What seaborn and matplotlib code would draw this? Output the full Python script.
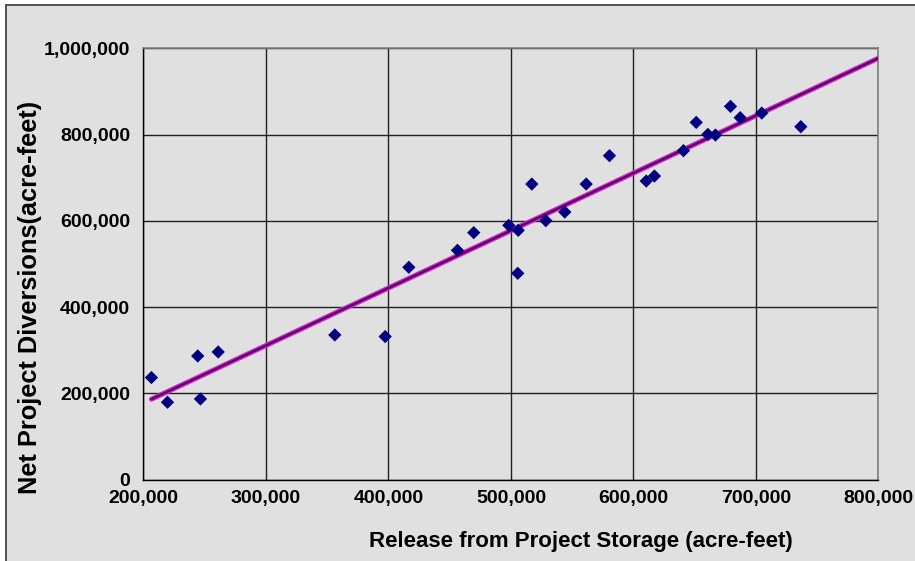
import numpy as np
import pandas as pd
import matplotlib.pyplot as plt
import seaborn as sns
from matplotlib.ticker import FuncFormatter
from matplotlib.patches import Rectangle

# release from storage vs net diversions (acre-feet)
release = [206500, 219600, 244300, 246500, 261000, 356200, 397300, 416600,
           456300, 469600, 498200, 505900, 505500, 517000, 528400, 543900,
           561400, 580400, 610400, 617100, 640800, 651200, 660700, 666900,
           679200, 687100, 704700, 736600]
diversions = [236900, 179600, 286900, 187300, 296200, 335600, 331900, 492500,
              531900, 572900, 589800, 578200, 478600, 685500, 600700, 620600,
              685500, 751300, 692500, 704100, 762900, 828500, 800700, 799100,
              865600, 839400, 850100, 818500]

x_ticks = [200000, 300000, 400000, 500000, 600000, 700000, 800000]
y_ticks = [0, 200000, 400000, 600000, 800000, 1000000]

df = pd.DataFrame({"release": release, "diversions": diversions})

# linear trendline, forecast out to the axis end like excel does
slope, icpt = np.polyfit(df["release"], df["diversions"], 1)
trend_x = np.array([df["release"].min(), x_ticks[-1]])
trend = pd.DataFrame({"x": trend_x, "y": slope * trend_x + icpt})

sns.set_theme(style="white")
plt.rcParams['font.family'] = ['Liberation Sans', 'DejaVu Sans']
bg = "#E0E0E0"

fig = plt.figure(figsize=(9.15, 5.61), dpi=100, facecolor="white")
# grey chart area with its border (bottom/right run off the image)
fig.patches.append(Rectangle((6 / 915, -0.05), 1.05, 1.05 - 4.5 / 561,
                             transform=fig.transFigure, facecolor=bg,
                             edgecolor="#505050", lw=1.4, zorder=-5))

ax = fig.add_axes([0.1568, 0.1449, 0.8033, 0.7688])
ax.set_facecolor(bg)

sns.lineplot(data=trend, x="x", y="y", ax=ax, color="#D020D0", lw=3.6, zorder=3)
sns.lineplot(data=trend, x="x", y="y", ax=ax, color="#5A0060", lw=1.6, zorder=4)
sns.scatterplot(data=df, x="release", y="diversions", ax=ax, marker="D",
                color="#000080", s=46, edgecolor="none", zorder=5)

ax.set_xlim(x_ticks[0], x_ticks[-1])
ax.set_ylim(y_ticks[0], y_ticks[-1])
ax.set_xticks(x_ticks)
ax.set_yticks(y_ticks)
fmt = FuncFormatter(lambda v, p: f"{int(v):,}")
ax.xaxis.set_major_formatter(fmt)
ax.yaxis.set_major_formatter(fmt)

ax.grid(True, color="#202020", lw=1.0)
ax.set_axisbelow(True)
for side in ["top", "right"]:
    ax.spines[side].set_color("#808080")
    ax.spines[side].set_linewidth(1.2)
for side in ["left", "bottom"]:
    ax.spines[side].set_color("black")
    ax.spines[side].set_linewidth(1.0)

ax.tick_params(axis="both", which="major", direction="out", length=4, width=1,
               color="black", labelsize=14, labelcolor="black")
ax.tick_params(axis="y", pad=5.5)
ax.tick_params(axis="x", pad=3.5)
for lab in ax.get_xticklabels() + ax.get_yticklabels():
    lab.set_fontweight("bold")

ax.set_xlabel("Release from Project Storage (acre-feet)", fontsize=16,
              fontweight="bold", color="black")
ax.set_ylabel("Net Project Diversions(acre-feet)", fontsize=18.3,
              fontweight="bold", color="black")
ax.xaxis.set_label_coords(0.5946, -0.119)
ax.yaxis.set_label_coords(-0.138, 0.4236)

fig.savefig("out.png", dpi=100, facecolor="white")
